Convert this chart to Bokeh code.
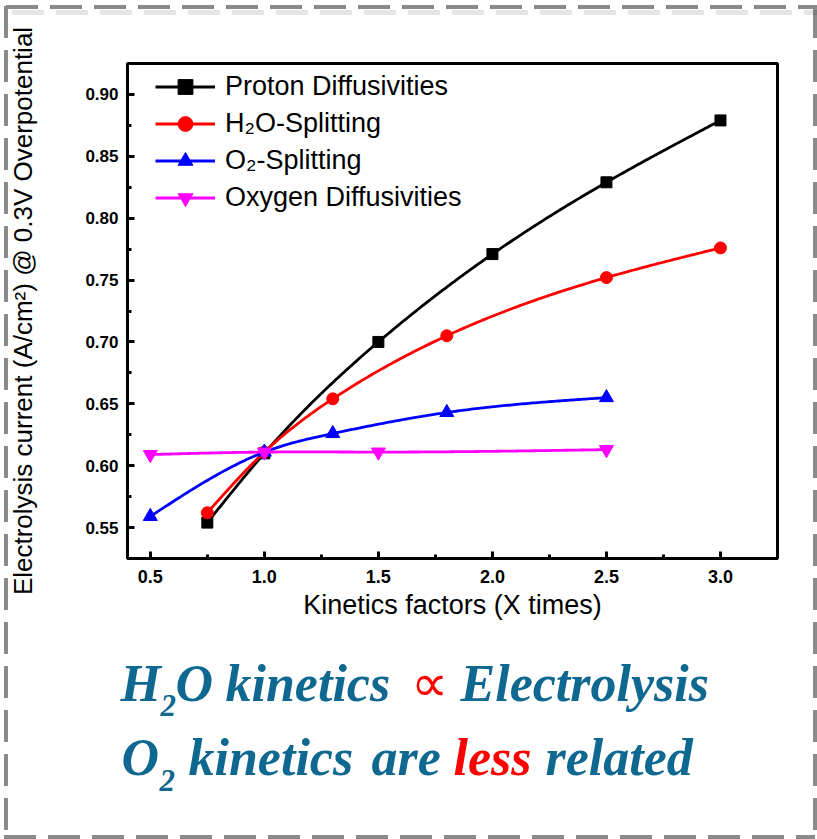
import numpy as np
from bokeh.plotting import figure
from bokeh.layouts import column
from bokeh.models import (Legend, LegendItem, FixedTicker, PrintfTickFormatter,
                          Label, Range1d)
from bokeh.embed import file_html
from bokeh.resources import INLINE

# ---------------- data ----------------
proton_x = [0.75, 1.0, 1.5, 2.0, 2.5, 3.0]
proton_y = [0.554, 0.610, 0.700, 0.771, 0.829, 0.879]
h2o_x = [0.75, 1.0, 1.3, 1.8, 2.5, 3.0]
h2o_y = [0.562, 0.611, 0.654, 0.705, 0.752, 0.776]
o2_x = [0.5, 1.0, 1.3, 1.8, 2.5]
o2_y = [0.559, 0.611, 0.626, 0.643, 0.655]
oxy_x = [0.5, 1.0, 1.5, 2.5]
oxy_y = [0.609, 0.611, 0.611, 0.613]

series_names = ["Proton Diffusivities", "H\u2082O-Splitting", "O\u2082-Splitting", "Oxygen Diffusivities"]
x_ticks = [0.5, 1.0, 1.5, 2.0, 2.5, 3.0]
x_minor = [0.75, 1.25, 1.75, 2.25, 2.75]
y_ticks = [0.55, 0.60, 0.65, 0.70, 0.75, 0.80, 0.85, 0.90]
y_minor = [0.575, 0.625, 0.675, 0.725, 0.775, 0.825, 0.875]

W, H = 817, 839
CH = 640                      # height of chart figure
FL, FR, FT, FB = 127, 777, 63, 558


def smooth(xs, ys, n=200):
    x = np.asarray(xs, float)
    y = np.asarray(ys, float)
    nn = len(x)
    h = np.diff(x)
    A = np.zeros((nn, nn))
    b = np.zeros(nn)
    A[0, 0] = 1
    A[-1, -1] = 1
    for i in range(1, nn - 1):
        A[i, i - 1] = h[i - 1]
        A[i, i] = 2 * (h[i - 1] + h[i])
        A[i, i + 1] = h[i]
        b[i] = 3 * ((y[i + 1] - y[i]) / h[i] - (y[i] - y[i - 1]) / h[i - 1])
    c = np.linalg.solve(A, b)
    xx = np.linspace(x[0], x[-1], n)
    idx = np.clip(np.searchsorted(x, xx) - 1, 0, nn - 2)
    dx = xx - x[idx]
    bc = (y[1:] - y[:-1]) / h - h * (2 * c[:-1] + c[1:]) / 3
    dc = (c[1:] - c[:-1]) / (3 * h)
    yy = y[idx] + bc[idx] * dx + c[idx] * dx ** 2 + dc[idx] * dx ** 3
    return xx, yy


p = figure(width=W, height=CH, output_backend="svg", toolbar_location=None,
           x_range=Range1d(0.4, 3.25), y_range=Range1d(0.525, 0.925),
           min_border_left=FL, min_border_right=W - FR,
           min_border_top=FT, min_border_bottom=CH - FB)
p.grid.visible = False
p.outline_line_color = "black"
p.outline_line_width = 3
p.outline_line_alpha = 1
p.background_fill_color = "white"
p.border_fill_alpha = 0

for ax in (p.xaxis[0], p.yaxis[0]):
    ax.axis_line_width = 3
    ax.axis_line_color = "black"
    ax.major_tick_in = 7
    ax.major_tick_out = 0
    ax.minor_tick_in = 4
    ax.minor_tick_out = 0
    ax.major_tick_line_width = 3
    ax.minor_tick_line_width = 3
    ax.major_label_text_font = "Liberation Sans"
    ax.major_label_text_font_style = "bold"
    ax.major_label_text_color = "black"
    ax.axis_label_text_font = "Liberation Sans"
    ax.axis_label_text_font_style = "normal"
    ax.axis_label_text_color = "black"

p.xaxis.major_label_text_font_size = "18px"
p.yaxis.major_label_text_font_size = "17px"
p.xaxis.axis_label_text_font_size = "27px"
p.yaxis.axis_label_text_font_size = "26px"
p.xaxis.ticker = FixedTicker(ticks=x_ticks, minor_ticks=x_minor)
p.yaxis.ticker = FixedTicker(ticks=y_ticks, minor_ticks=y_minor)
p.xaxis.formatter = PrintfTickFormatter(format="%.1f")
p.yaxis.formatter = PrintfTickFormatter(format="%.2f")
p.xaxis.axis_label = "Kinetics factors (X times)"
p.yaxis.axis_label = "Electrolysis current (A/cm\u00b2) @ 0.3V Overpotential"
p.xaxis.major_label_standoff = 11
p.xaxis.axis_label_standoff = 4
p.yaxis.major_label_standoff = 9
p.yaxis.axis_label_standoff = 44

LW = 2.8
items = []
specs = [
    (proton_x, proton_y, "black", "square", 11),
    (h2o_x, h2o_y, "red", "circle", 12),
    (o2_x, o2_y, "blue", "triangle", 14),
    (oxy_x, oxy_y, "magenta", "inverted_triangle", 14),
]
for (xs, ys, col, mk, sz), name in zip(specs, series_names):
    sx, sy = smooth(xs, ys)
    lr = p.line(sx, sy, line_color=col, line_width=LW)
    mr = p.scatter(xs, ys, marker=mk, size=sz, fill_color=col, line_color=col)
    items.append(LegendItem(label=name, renderers=[lr, mr]))

ITEM_H = 37
legend = Legend(items=items, location=(28, FB - FT - 5 - 4 * ITEM_H),
                border_line_color=None, background_fill_alpha=0,
                padding=0, margin=0, spacing=0,
                glyph_width=60, glyph_height=ITEM_H, label_height=ITEM_H,
                label_standoff=10, label_text_font="Liberation Sans",
                label_text_font_size="27px", label_text_color="black")
p.add_layout(legend)

# ---------------- text panel below the chart ----------------
t = figure(width=W, height=H - CH, output_backend="svg", toolbar_location=None,
           x_range=Range1d(0, W), y_range=Range1d(H, CH),
           x_axis_type=None, y_axis_type=None,
           min_border_left=0, min_border_right=0,
           min_border_top=0, min_border_bottom=0)
if "frame_align" in t.properties():
    t.frame_align = False
    p.frame_align = False
else:
    t.x_range = Range1d(FL, FR)
    t.min_border_left = FL
    t.min_border_right = W - FR
t.grid.visible = False
t.outline_line_color = None
t.background_fill_alpha = 0
t.border_fill_alpha = 0

BLUE = "#0F6890"
RED = "#FF0000"


def piece(txt, x, y, color=BLUE, size=52, style="bold italic"):
    # Bokeh's alphabetic anchor sits about 0.35 em above the drawn baseline
    t.add_layout(Label(x=x, y=y - 0.35 * size, text=txt, text_font="Liberation Serif",
                       text_font_style=style, text_font_size=f"{size}px",
                       text_color=color, text_align="left",
                       text_baseline="alphabetic"))


piece("H", 120, 701)
piece("2", 160, 716, size=31)
piece("O", 175, 701)
piece("kinetics", 225, 701)
piece("\u221d", 410, 701, color=RED, style="normal")
piece("Electrolysis", 460, 701)
piece("O", 121, 775)
piece("2", 159, 791, size=31)
piece("kinetics", 188, 775)
piece("are", 371, 775)
piece("less", 453, 775, color=RED)
piece("related", 545, 775)

# dashed grey frame round the whole picture (drawn as the page background)
dash_h = "repeating-linear-gradient(to right, #8a8a8a 0px, #8a8a8a 32px, transparent 32px, transparent 44px)"
dash_v = "repeating-linear-gradient(to bottom, #8a8a8a 0px, #8a8a8a 32px, transparent 32px, transparent 44px)"
shadow_h = "repeating-linear-gradient(to right, rgba(0,0,0,0.10) 0px, rgba(0,0,0,0.10) 32px, transparent 32px, transparent 44px)"
styles = {
    "background-color": "white",
    "background-image": ", ".join([dash_h, shadow_h, dash_h, dash_v, dash_v]),
    "background-size": "811px 4px, 811px 5px, 811px 4px, 4px 831px, 4px 831px",
    "background-position": "6px 5px, 12px 10px, 4px 835px, 4px 6px, 813px 6px",
    "background-repeat": "no-repeat",
}

layout = column(p, t, spacing=0, styles=styles)

open("out.html", "w").write(file_html(layout, INLINE))
